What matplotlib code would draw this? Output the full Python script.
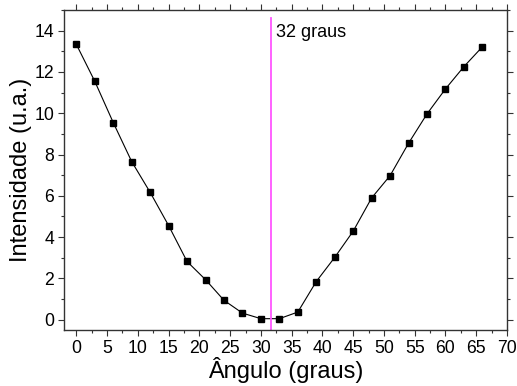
import matplotlib
matplotlib.use("Agg")
import matplotlib.pyplot as plt
from matplotlib.ticker import MultipleLocator

plt.rcParams['font.family'] = ['Liberation Sans', 'DejaVu Sans']

angles = [0, 3, 6, 9, 12, 15, 18, 21, 24, 27, 30, 33, 36, 39, 42, 45, 48, 51, 54, 57, 60, 63, 66]
intensity = [13.34, 11.55, 9.55, 7.66, 6.17, 4.56, 2.82, 1.94, 0.94, 0.32, 0.05, 0.05, 0.37,
             1.85, 3.02, 4.29, 5.90, 6.98, 8.55, 9.97, 11.18, 12.26, 13.22]
ref_angle = 31.6
ref_top = 14.6
ref_label = "32 graus"
xticks = list(range(0, 75, 5))
yticks = [0, 2, 4, 6, 8, 10, 12, 14]

fig = plt.figure(figsize=(5.17, 3.86), dpi=100)
ax = fig.add_axes([0.1238, 0.145, 0.8569, 0.829])

ax.plot(angles, intensity, color='black', lw=0.8, marker='s', ms=5.0, mfc='black', mec='black')
ax.plot([ref_angle, ref_angle], [-0.5, ref_top], color='#ff55ff', lw=1.3)
ax.text(ref_angle + 0.9, 13.92, ref_label, fontsize=13, va='center', ha='left')

ax.set_xlim(-2, 70)
ax.set_ylim(-0.5, 15)
ax.set_xticks(xticks)
ax.set_yticks(yticks)
ax.xaxis.set_minor_locator(MultipleLocator(2.5))
ax.yaxis.set_minor_locator(MultipleLocator(1))
ax.tick_params(which='both', direction='out', top=True, right=True, labeltop=False, labelright=False,
               width=0.8, color='#333333')
ax.tick_params(which='major', length=4, labelsize=12.7, pad=3)
ax.tick_params(which='minor', length=2.5)
for s in ax.spines.values():
    s.set_linewidth(1.0)
    s.set_color('#333333')

ax.set_xlabel("Ângulo (graus)", fontsize=17, labelpad=0)
ax.set_ylabel("Intensidade (u.a.)", fontsize=17, labelpad=2)

fig.savefig("out.png", dpi=100)
